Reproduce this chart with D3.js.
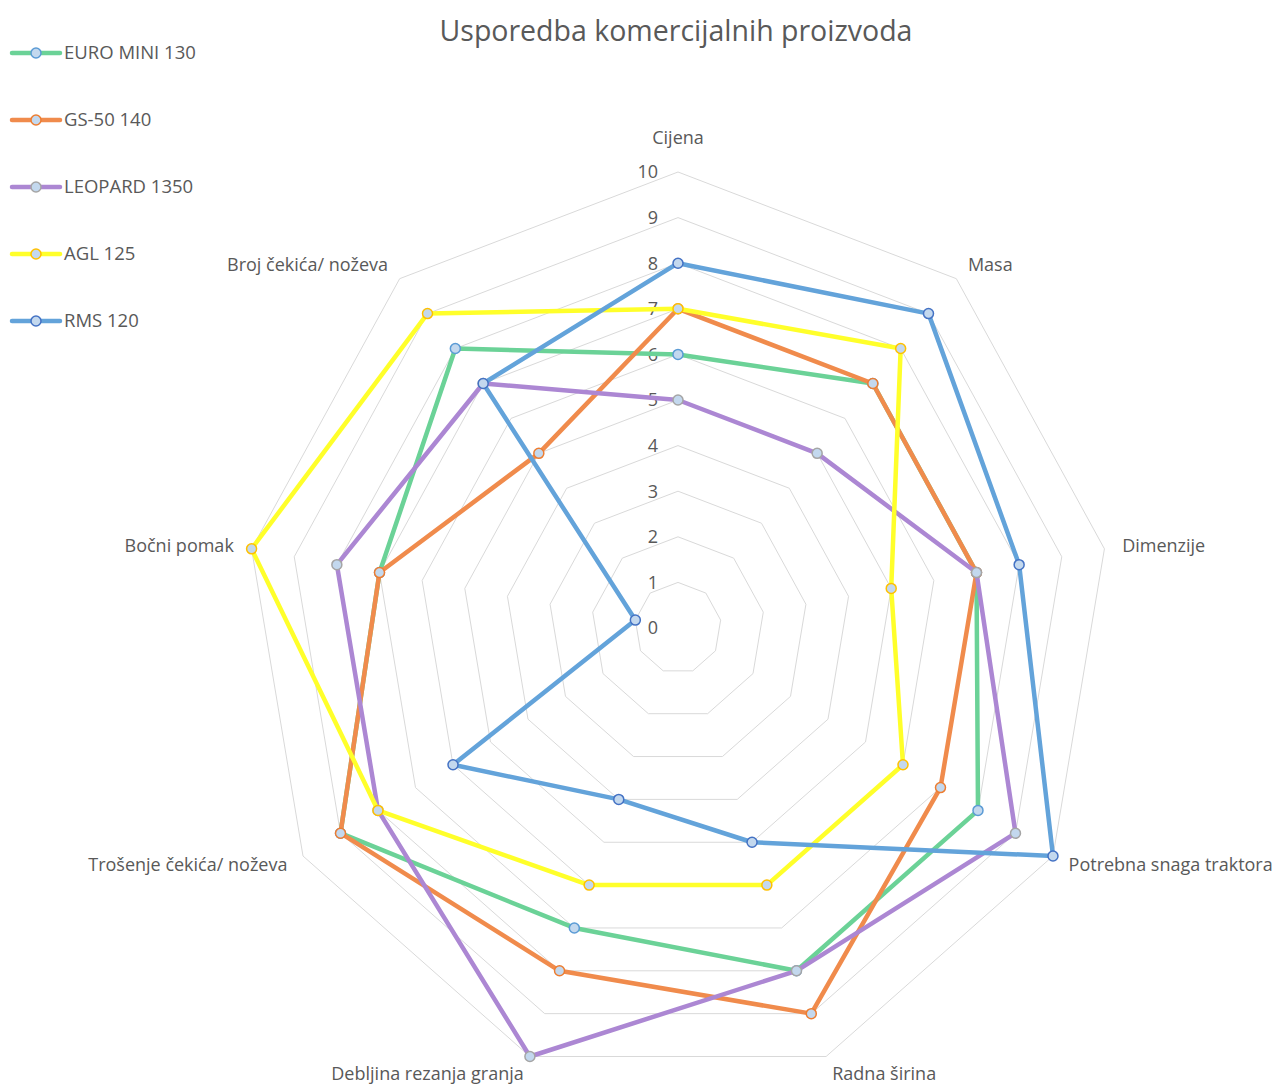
<!DOCTYPE html>
<html>
<head>
<meta charset="utf-8">
<script src="https://cdn.jsdelivr.net/npm/d3@7"></script>
<style>
  body { margin: 0; background: #fff; }
  svg { display: block; font-family: "Open Sans", "Noto Sans", sans-serif; }
  .axis-label, .tick-label { fill: #595959; font-size: 18px; }
  .legend-label { fill: #595959; font-size: 18.5px; }
  .title { fill: #595959; font-size: 28.5px; }
</style>
</head>
<body>
<div id="chart"></div>
<script>
const categories = ["Cijena", "Masa", "Dimenzije", "Potrebna snaga traktora", "Radna širina",
    "Debljina rezanja granja", "Trošenje čekića/ noževa", "Bočni pomak", "Broj čekića/ noževa"];
const seriesNames = ["EURO MINI 130", "GS-50 140", "LEOPARD 1350", "AGL 125", "RMS 120"];
const euroMini = [6, 7, 7, 8, 8, 7, 9, 7, 8];
const gs50 = [7, 7, 7, 7, 9, 8, 9, 7, 5];
const leopard = [5, 5, 7, 9, 8, 10, 8, 8, 7];
const agl = [7, 8, 5, 6, 6, 6, 8, 10, 9];
const rms = [8, 9, 8, 10, 5, 4, 6, 1, 7];
const ticks = [0, 1, 2, 3, 4, 5, 6, 7, 8, 9, 10];

const seriesValues = [euroMini, gs50, leopard, agl, rms];
const lineColors = ["#6BD297", "#F08B4C", "#AC87D3", "#FFFF2A", "#63A3DA"];
const markerStroke = ["#5B9BD5", "#ED7D31", "#A5A5A5", "#FFC000", "#4472C4"];

const width = 1282, height = 1086;
const cx = 678, cy = 628;
const ry = 456, rx = 433;   // slika je malo stisnuta vodoravno

const svg = d3.select("#chart").append("svg")
    .attr("width", width)
    .attr("height", height);

const r = d3.scaleLinear().domain([0, 10]).range([0, 1]);
const angle = d3.scaleLinear().domain([0, categories.length]).range([0, 2 * Math.PI]);

function pt(i, v) {
    const a = angle(i);
    return [cx + Math.sin(a) * r(v) * rx, cy - Math.cos(a) * r(v) * ry];
}

// Naslov
svg.append("text")
    .attr("class", "title")
    .attr("x", 676)
    .attr("y", 41)
    .attr("text-anchor", "middle")
    .text("Usporedba komercijalnih proizvoda");

// Mreza
const ring = d3.line().curve(d3.curveLinearClosed);
const g = svg.append("g");
g.selectAll("path.grid")
    .data(ticks.filter(t => t > 0))
    .enter().append("path")
    .attr("class", "grid")
    .attr("d", t => ring(categories.map((c, i) => pt(i, t))))
    .style("fill", "none")
    .style("stroke", "#D9D9D9")
    .style("stroke-width", "1px");

// Oznake skale
g.selectAll("text.tick-label")
    .data(ticks)
    .enter().append("text")
    .attr("class", "tick-label")
    .attr("x", cx - 20)
    .attr("y", t => pt(0, t)[1])
    .attr("dy", "0.35em")
    .attr("text-anchor", "end")
    .text(t => t);

// Nazivi osi
g.selectAll("text.axis-label")
    .data(categories)
    .enter().append("text")
    .attr("class", "axis-label")
    .each(function (d, i) {
        const a = angle(i);
        const [x0, y0] = pt(i, 10);
        const s = Math.sin(a), c = Math.cos(a);
        let x = x0 + s * 18, y = y0 - c * 18;
        let anchor = Math.abs(s) < 0.1 ? "middle" : (s > 0 ? "start" : "end");
        if (c > 0.9) y -= 16;
        d3.select(this)
            .attr("x", x)
            .attr("y", y)
            .attr("dy", "0.35em")
            .attr("text-anchor", anchor)
            .text(d);
    });

// Serije
seriesValues.forEach((vals, si) => {
    const pts = vals.map((v, i) => pt(i, v));
    g.append("path")
        .attr("d", ring(pts))
        .style("fill", "none")
        .style("stroke", lineColors[si])
        .style("stroke-width", "4.5px")
        .style("stroke-linejoin", "round");
    g.selectAll(null)
        .data(pts)
        .enter().append("circle")
        .attr("cx", d => d[0])
        .attr("cy", d => d[1])
        .attr("r", 5)
        .style("fill", "#C3D8EE")
        .style("stroke", markerStroke[si])
        .style("stroke-width", "1.5px");
});

// Legenda
const legend = svg.append("g");
const legendRow = d3.scaleLinear().domain([0, 1]).range([53, 120]);
seriesNames.forEach((name, si) => {
    const y = legendRow(si);
    legend.append("line")
        .attr("x1", 12).attr("x2", 60)
        .attr("y1", y).attr("y2", y)
        .style("stroke", lineColors[si])
        .style("stroke-width", "4.5px")
        .style("stroke-linecap", "round");
    legend.append("circle")
        .attr("cx", 36).attr("cy", y).attr("r", 5)
        .style("fill", "#C3D8EE")
        .style("stroke", markerStroke[si])
        .style("stroke-width", "1.5px");
    legend.append("text")
        .attr("class", "legend-label")
        .attr("x", 64)
        .attr("y", y)
        .attr("dy", "0.35em")
        .text(name);
});
</script>
</body>
</html>
